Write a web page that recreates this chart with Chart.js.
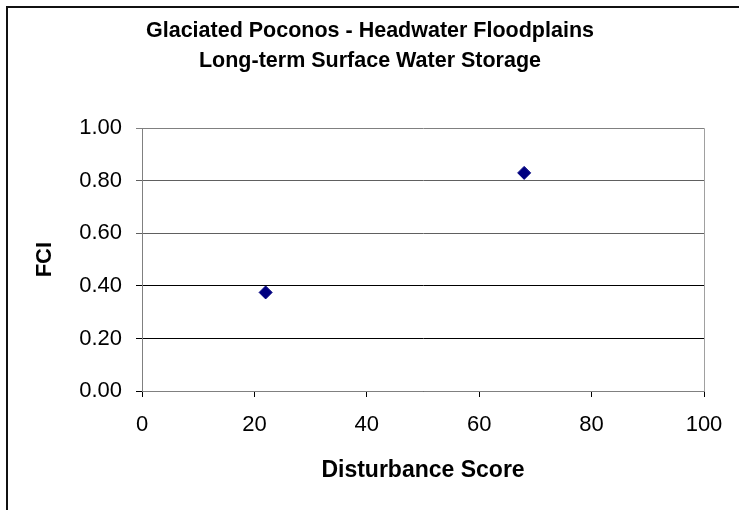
<!DOCTYPE html>
<html>
<head>
<meta charset="utf-8">
<script src="https://cdn.jsdelivr.net/npm/chart.js@4"></script>
<style>
  html, body { margin: 0; padding: 0; background: #fff; }
  #wrap { width: 739px; height: 510px; position: relative; }
</style>
</head>
<body>
<div id="wrap"><canvas id="myChart" width="739" height="510"></canvas></div>
<script>
// data
var disturbance = [22, 68];
var fci = [0.375, 0.83];
var titleLines = ['Glaciated Poconos - Headwater Floodplains', 'Long-term Surface Water Storage'];

var points = disturbance.map(function (x, i) { return { x: x, y: fci[i] }; });

var FONT = 'Liberation Sans, Arial, sans-serif';

// outer frame (left + top only) and right edge of the plot
var framePlugin = {
  id: 'frame',
  beforeDraw: function (chart) {
    var c = chart.ctx;
    c.save();
    c.fillStyle = '#fff';
    c.fillRect(0, 0, chart.width, chart.height);
    c.strokeStyle = '#111';
    c.lineWidth = 2;
    c.beginPath();
    c.moveTo(7, chart.height);
    c.lineTo(7, 7);
    c.lineTo(chart.width, 7);
    c.stroke();
    c.restore();
  },
  beforeDatasetsDraw: function (chart) {
    var a = chart.chartArea, c = chart.ctx;
    c.save();
    c.strokeStyle = '#a0a0a0';
    c.lineWidth = 1;
    c.beginPath();
    c.moveTo(a.right + 0.5, a.top);
    c.lineTo(a.right + 0.5, a.bottom);
    c.stroke();
    c.restore();
  }
};

var ctx = document.getElementById('myChart').getContext('2d');
new Chart(ctx, {
  type: 'scatter',
  data: {
    datasets: [{
      label: 'FCI',
      data: points,
      pointStyle: 'rectRot',
      pointRadius: 6.5,
      pointHoverRadius: 6.5,
      backgroundColor: '#000080',
      borderColor: '#000080',
      borderWidth: 1
    }]
  },
  options: {
    responsive: false,
    animation: false,
    layout: { padding: { left: 36, right: 35, top: 0, bottom: 0 } },
    plugins: {
      legend: { display: false },
      tooltip: { enabled: false },
      title: {
        display: true,
        text: titleLines,
        color: '#000',
        font: { family: FONT, size: 21.5, weight: 'bold', lineHeight: 1.4 },
        padding: { top: 16, bottom: 52 }
      }
    },
    scales: {
      x: {
        type: 'linear',
        min: 0,
        max: 100,
        ticks: {
          stepSize: 20,
          color: '#000',
          padding: 15,
          font: { family: FONT, size: 22 }
        },
        grid: { drawOnChartArea: false, drawTicks: true, tickLength: 6, color: '#000' },
        border: { color: '#808080', width: 1 },
        title: {
          display: true,
          text: 'Disturbance Score',
          color: '#000',
          font: { family: FONT, size: 23, weight: 'bold' },
          padding: { top: 0, bottom: 26 }
        },
        afterFit: function (scale) { scale.height = 119; }
      },
      y: {
        min: 0,
        max: 1,
        ticks: {
          stepSize: 0.2,
          color: '#000',
          padding: 14,
          font: { family: FONT, size: 22 },
          callback: function (v) { return v.toFixed(2); }
        },
        grid: {
          tickLength: 6,
          color: function (c) {
            var v = c.tick ? c.tick.value : 0;
            if (v >= 1) return '#808080';
            return v > 0.5 ? '#606060' : '#000';
          }
        },
        border: { color: '#808080', width: 1 },
        title: {
          display: true,
          text: 'FCI',
          color: '#000',
          font: { family: FONT, size: 22, weight: 'bold', lineHeight: 0.8 },
          padding: { top: 0, bottom: 0 }
        },
        afterFit: function (scale) { scale.width = 142 - 36; }
      }
    }
  },
  plugins: [framePlugin]
});
</script>
</body>
</html>
